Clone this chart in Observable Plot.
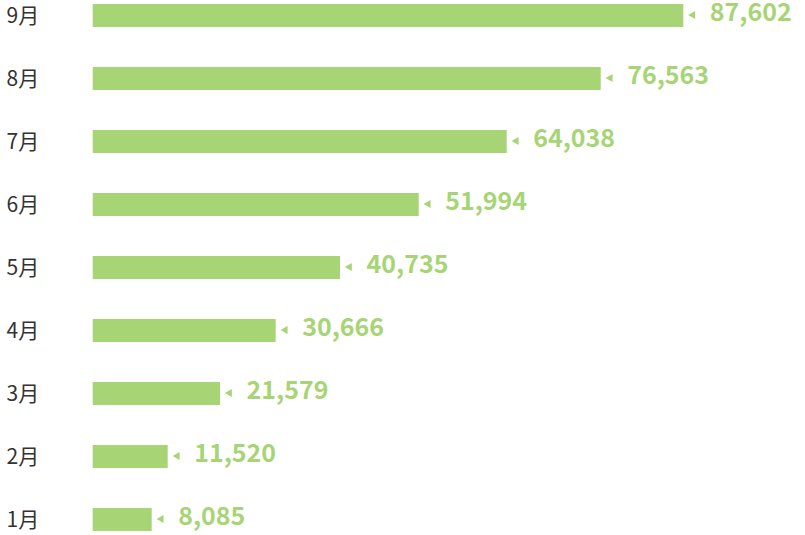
<!DOCTYPE html>
<html>
<head>
<meta charset="utf-8">
<script src="https://cdn.jsdelivr.net/npm/d3@7"></script>
<script src="https://cdn.jsdelivr.net/npm/@observablehq/plot@0.6"></script>
<style>
  html, body { margin: 0; padding: 0; background: #fff; }
  #chart svg { display: block; }
</style>
</head>
<body>
<div id="chart"></div>
<script>
// categories (top to bottom)
const months = ["9月", "8月", "7月", "6月", "5月", "4月", "3月", "2月", "1月"];
// displayed values
const labelValues = [87602, 76563, 64038, 51994, 40735, 30666, 21579, 11520, 8085];
// bar lengths as drawn (same units as the 9月 label)
const barValues = [87602, 75352, 61409, 48356, 36682, 27144, 18883, 11125, 8752];

const data = months.map((m, i) => ({month: m, bar: barValues[i], label: labelValues[i]}));
const green = "#a7d575";
const font = "'Noto Sans CJK JP', 'Noto Sans', sans-serif";

const chart = Plot.plot({
  width: 805,
  height: 535,
  marginLeft: 93,
  marginRight: 0,
  marginTop: 0,
  marginBottom: 0,
  style: {fontFamily: font, background: "#fff"},
  x: {domain: [0, 87602], range: [92.7, 683.3], axis: null},
  y: {domain: months, paddingInner: 0.642, paddingOuter: 0.054, label: null},
  marks: [
    Plot.barX(data, {x: "bar", y: "month", fill: green}),
    Plot.dot(data, {x: "bar", y: "month", symbol: "triangle", r: 3, rotate: -90, fill: green, stroke: null, dx: 9, dy: -1}),
    Plot.text(data, {x: "bar", y: "month", text: d => d3.format(",")(d.label), textAnchor: "start", dx: 26, dy: -3,
      fill: green, fontSize: 25, fontWeight: "bold", fontFamily: font}),
    Plot.axisY({tickSize: 0, textAnchor: "start", dx: -78, fontSize: 21, fill: "#333", fontFamily: font})
  ]
});
document.getElementById("chart").appendChild(chart);
</script>
</body>
</html>
